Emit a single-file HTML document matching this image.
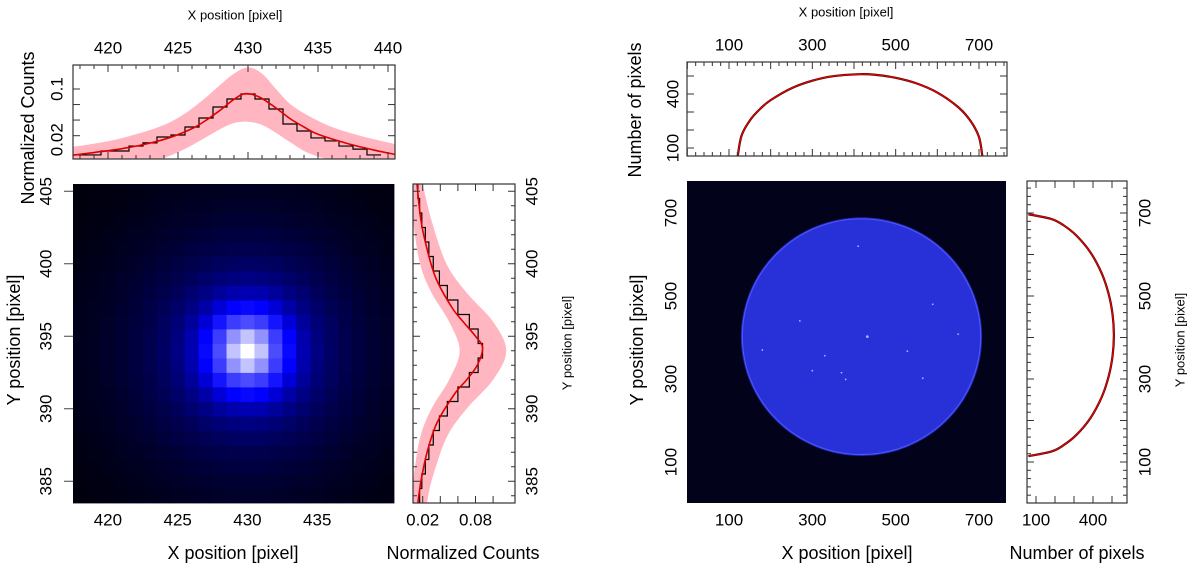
<!DOCTYPE html>
<html><head><meta charset="utf-8"><style>
html,body{margin:0;padding:0;background:#fff;}
svg{display:block;font-family:"Liberation Sans",Arial,sans-serif;}
</style></head><body>
<svg id="fig" width="1200" height="579" viewBox="0 0 1200 579" xmlns="http://www.w3.org/2000/svg"></svg>
<script>
// ---------- LEFT: PSF data ----------
const xBins = [418,419,420,421,422,423,424,425,426,427,428,429,430,431,432,433,434,435,436,437,438,439];
const xCounts = [0.0103,0.0103,0.0118,0.0118,0.0140,0.0156,0.0191,0.0205,0.0270,0.0368,0.0538,0.0708,0.0842,0.0708,0.0502,0.0299,0.0235,0.0185,0.0167,0.0140,0.0126,0.0103];
const xFitPos = [417.5,419,421,423,424.5,426,427,428,429,429.8,430.8,432,433,434,435,437,439,440.5];
const xFitVal = [0.0102,0.0112,0.0128,0.0155,0.019,0.0255,0.034,0.048,0.070,0.085,0.076,0.052,0.036,0.027,0.021,0.0155,0.0122,0.0105];
const xBandPos = [417.5,420,422,424,425.5,427,428,429,430,431,432,433,434.3,436,438,440.5];
const xBandHi = [0.0136,0.0165,0.021,0.029,0.043,0.075,0.115,0.17,0.211,0.17,0.10,0.06,0.040,0.027,0.020,0.015];
const xBandLo = [0.005,0.0058,0.007,0.0093,0.0127,0.019,0.025,0.031,0.0324,0.029,0.022,0.016,0.011,0.0085,0.0068,0.0055];
const yBins = [405,404,403,402,401,400,399,398,397,396,395,394,393,392,391,390,389,388,387,386,385,384];
const yCounts = [0.0145,0.0165,0.019,0.023,0.027,0.032,0.039,0.048,0.060,0.073,0.083,0.088,0.083,0.073,0.060,0.048,0.039,0.032,0.027,0.023,0.019,0.0165];
const yFitPos = [405.5,403,401,399,397,396,395,394.2,393,392,391,389,387,385,383.5];
const yFitVal = [0.0135,0.018,0.025,0.035,0.053,0.066,0.080,0.088,0.082,0.070,0.056,0.036,0.025,0.018,0.0145];
const yBandPos = [405.5,403,400,398,396,394,392,390,388,385,383.5];
const yBandHi = [0.020,0.030,0.047,0.070,0.100,0.115,0.100,0.070,0.047,0.030,0.025];
const yBandLo = [0.006,0.009,0.017,0.030,0.050,0.062,0.050,0.030,0.017,0.009,0.007];
// heatmap: relative brightness vs. radial pixel distance from the PSF centre
const psfCenter = [430,394];
const heatRadial = [1,0.85,0.55,0.38,0.27,0.21,0.17,0.14,0.12,0.10,0.085,0.072,0.062,0.053,0.045,0.038,0.032];
const xTicksL = [420,425,430,435,440];
const yTicksL = [385,390,395,400,405];
// ---------- RIGHT: Sun disk data ----------
const sunXPos = [121,130,150,175,200,250,300,350,414,450,500,550,600,650,680,700,708];
const sunXCount = [56,168,253,318,366,432,474,499,510,507,490,459,408,327,249,161,56];
const sunYPos = [114,125.5,140.5,165.5,205.5,255.5,305.5,355.5,405.5,455.5,505.5,555.5,605.5,645.5,670.5,685.5,697];
const sunYCount = [60,182,245,313,386,445,482,503,510,503,482,445,386,313,245,182,60];
const diskCenter = [418,402];
const diskRadius = [286,284];
const spotX = [432,330,528,370,650,589,180,565,380,410,300,270];
const spotY = [402,356,367,315,408,480,370,302,299,620,320,440];
const xTicksR = [100,300,500,700];
const yTicksR = [100,300,500,700];

const NS="http://www.w3.org/2000/svg";
const svg=document.getElementById('fig');
function el(tag,attrs,parent){const e=document.createElementNS(NS,tag);for(const k in attrs)e.setAttribute(k,attrs[k]);(parent||svg).appendChild(e);return e;}
function txt(s,x,y,size,rot,parent){const t=el('text',{x:x,y:y,'font-size':size,'text-anchor':'middle','dominant-baseline':'central',fill:'#000'},parent);if(rot)t.setAttribute('transform','rotate('+rot+' '+x+' '+y+')');t.textContent=s;return t;}
function lin(d0,d1,r0,r1){return v=>r0+(v-d0)*(r1-r0)/(d1-d0);}
function logs(d0,d1,r0,r1){const a=Math.log10(d0),b=Math.log10(d1);return v=>r0+(Math.log10(v)-a)*(r1-r0)/(b-a);}
function smooth(pts){let d='M'+pts[0][0]+','+pts[0][1];for(let i=0;i<pts.length-1;i++){const p0=pts[i-1]||pts[i],p1=pts[i],p2=pts[i+1],p3=pts[i+2]||p2;
 const c1=[p1[0]+(p2[0]-p0[0])/6,p1[1]+(p2[1]-p0[1])/6],c2=[p2[0]-(p3[0]-p1[0])/6,p2[1]-(p3[1]-p1[1])/6];d+=' C'+c1+' '+c2+' '+p2;}return d;}
let clipN=0;
function clip(x,y,w,h){const id='c'+(clipN++);const cp=el('clipPath',{id:id});el('rect',{x:x,y:y,width:w,height:h},cp);return 'url(#'+id+')';}

// ===== Left top panel =====
const LT={x0:73,x1:395,y0:65,y1:159};
const sxL=lin(417.5,440.5,73,395);
const syLog=logs(0.02,0.1,135.7,89);
let g=el('g',{'clip-path':clip(LT.x0,LT.y0,LT.x1-LT.x0,LT.y1-LT.y0)});

let band=[];xBandPos.forEach((p,i)=>band.push([sxL(p),syLog(xBandHi[i])]));
let bandL=[];xBandPos.forEach((p,i)=>bandL.push([sxL(p),syLog(xBandLo[i])]));
let bp=el('path',{d:smooth(band)+' L'+smooth(bandL.reverse()).slice(1)+' Z',fill:'#ffb6c1',stroke:'none'},g);

let hd='';xBins.forEach((b,i)=>{const y=syLog(xCounts[i]);hd+=(i?' L':'M')+sxL(b-0.5)+','+y+' L'+sxL(b+0.5)+','+y;});
let hp=el('path',{d:hd,fill:'none',stroke:'#000','stroke-width':1.2},g);

let fp=el('path',{d:smooth(xFitPos.map((p,i)=>[sxL(p),syLog(xFitVal[i])])),fill:'none',stroke:'#e00000','stroke-width':1.6},g);

el('rect',{x:LT.x0,y:LT.y0,width:LT.x1-LT.x0,height:LT.y1-LT.y0,fill:'none',stroke:'#333','stroke-width':1.2});
for(let v=418;v<=440;v++){const x=sxL(v),L=(v%5==0)?7:4;el('line',{x1:x,y1:LT.y0,x2:x,y2:LT.y0+L,stroke:'#333'});el('line',{x1:x,y1:LT.y1,x2:x,y2:LT.y1-L,stroke:'#333'});}
[0.02,0.0343,0.0585,0.1].forEach(v=>{const y=syLog(v);el('line',{x1:LT.x0,y1:y,x2:LT.x0+7,y2:y,stroke:'#333'});el('line',{x1:LT.x1,y1:y,x2:LT.x1-7,y2:y,stroke:'#333'});});
xTicksL.forEach(v=>{const t=txt(String(v),sxL(v),48,17);});
txt('0.1',57,syLog(0.1),17,-90);txt('0.02',57,syLog(0.02)+4,17,-90);
let t1=txt('X position [pixel]',235,15,13);
let t2=txt('Normalized Counts',28,128,18,-90);

// ===== Heatmap =====
const HM={x0:73,x1:394,y0:184,y1:503};
const syH=lin(405.5,383.5,184,503);
const sxH=lin(417.5,440.5,73,394);
let hg=el('g',{});
el('rect',{x:HM.x0,y:HM.y0,width:HM.x1-HM.x0,height:HM.y1-HM.y0,fill:'#000008'},hg);
function wR(r){const n=heatRadial.length-1;if(r>=n)return heatRadial[n];const i=Math.floor(r),f=r-i;return heatRadial[i]*(1-f)+heatRadial[i+1]*f;}
for(let yb=384;yb<=405;yb++){for(let xb=417;xb<=440;xb++){
 const t=wR(Math.hypot(xb-psfCenter[0],yb-psfCenter[1]));
 const b=Math.round(255*Math.pow(Math.min(1,t/0.36),1.25));const w=Math.round(255*Math.max(0,(t-0.36)/0.64));
 const x0=Math.max(HM.x0,sxH(xb-0.5)),x1=Math.min(HM.x1,sxH(xb+0.5));
 const r=el('rect',{x:x0,y:syH(yb+0.5),width:x1-x0+0.4,height:syH(yb-0.5)-syH(yb+0.5)+0.4,fill:'rgb('+w+','+w+','+Math.max(b,w)+')'},hg);
 
 
}}
yTicksL.forEach(v=>{const y=syH(v);el('line',{x1:64,y1:y,x2:73,y2:y,stroke:'#444'});const t=txt(String(v),46,y,17,-90);});
xTicksL.slice(0,4).forEach(v=>{const t=txt(String(v),sxH(v),520,17);});
let t3=txt('X position [pixel]',233,553,18);
let t4=txt('Y position [pixel]',14,340,18,-90);

// ===== Left side panel (Y profile) =====
const LS={x0:413,x1:515,y0:184,y1:503};
const sxS=lin(0.02,0.08,422.7,475.5);
let sg=el('g',{'clip-path':clip(LS.x0,LS.y0,LS.x1-LS.x0,LS.y1-LS.y0)});

let sb=[];yBandPos.forEach((p,i)=>sb.push([sxS(yBandHi[i]),syH(p)]));
let sbl=[];yBandPos.forEach((p,i)=>sbl.push([sxS(yBandLo[i]),syH(p)]));
let sbp=el('path',{d:smooth(sb)+' L'+smooth(sbl.reverse()).slice(1)+' Z',fill:'#ffb6c1'},sg);

let sh='';yBins.forEach((b,i)=>{const x=sxS(yCounts[i]);sh+=(i?' L':'M')+x+','+syH(b+0.5)+' L'+x+','+syH(b-0.5);});
let shp=el('path',{d:sh,fill:'none',stroke:'#000','stroke-width':1.2},sg);

let sfp=el('path',{d:smooth(yFitPos.map((p,i)=>[sxS(yFitVal[i]),syH(p)])),fill:'none',stroke:'#e00000','stroke-width':1.6},sg);

el('rect',{x:LS.x0,y:LS.y0,width:LS.x1-LS.x0,height:LS.y1-LS.y0,fill:'none',stroke:'#333','stroke-width':1.2});
[0.02,0.04,0.06,0.08,0.10].forEach(v=>{const x=sxS(v);el('line',{x1:x,y1:LS.y0,x2:x,y2:LS.y0+7,stroke:'#333'});el('line',{x1:x,y1:LS.y1,x2:x,y2:LS.y1-7,stroke:'#333'});});
for(let v=384;v<=405;v++){const y=syH(v),L=(v%5==0)?7:4;el('line',{x1:LS.x0,y1:y,x2:LS.x0+L,y2:y,stroke:'#333'});el('line',{x1:LS.x1,y1:y,x2:LS.x1-L,y2:y,stroke:'#333'});}
['0.02','0.08'].forEach(s=>{const t=txt(s,sxS(parseFloat(s)),520,17);});
yTicksL.forEach(v=>{const t=txt(String(v),532,syH(v),17,-90);});
let t5=txt('Normalized Counts',463,553,18);
let t6=txt('Y position [pixel]',567,343,13,-90);

// ===== Right top panel =====
const RT={x0:687,x1:1007,y0:62,y1:156};
const sxR=lin(100,700,729,979);
const syRT=lin(100,400,148,94);
let rg=el('g',{'clip-path':clip(RT.x0,RT.y0,RT.x1-RT.x0,RT.y1-RT.y0)});

const rpts=sunXPos.map((p,i)=>[sxR(p),syRT(sunXCount[i])]);
el('path',{d:smooth(rpts),fill:'none',stroke:'#000','stroke-width':2.2},rg);
let rfp=el('path',{d:smooth(rpts),fill:'none',stroke:'#e00000','stroke-width':1.5},rg);

el('rect',{x:RT.x0,y:RT.y0,width:RT.x1-RT.x0,height:RT.y1-RT.y0,fill:'none',stroke:'#333','stroke-width':1.2});
for(let v=0;v<=760;v+=20){const x=sxR(v);if(x<RT.x0||x>RT.x1)continue;const L=(v%100==0)?7:4;el('line',{x1:x,y1:RT.y0,x2:x,y2:RT.y0+L,stroke:'#333'});el('line',{x1:x,y1:RT.y1,x2:x,y2:RT.y1-L,stroke:'#333'});}
[100,200,300,400,500].forEach(v=>{const y=syRT(v);el('line',{x1:RT.x0,y1:y,x2:RT.x0+7,y2:y,stroke:'#333'});el('line',{x1:RT.x1,y1:y,x2:RT.x1-7,y2:y,stroke:'#333'});});
xTicksR.forEach(v=>{const t=txt(String(v),sxR(v),45,17);});
txt('400',673,syRT(400),17,-90);txt('100',673,syRT(100),17,-90);
let t7=txt('X position [pixel]',846,12,13);
let t8=txt('Number of pixels',635,110,18,-90);

// ===== Sun image =====
const IM={x0:687,x1:1006,y0:181,y1:503};
const syR=lin(100,700,462,213);
let ig=el('g',{});
el('rect',{x:IM.x0,y:IM.y0,width:IM.x1-IM.x0,height:IM.y1-IM.y0,fill:'#02021a'},ig);
const cx=sxR(diskCenter[0]),cy=syR(diskCenter[1]);
const rx=sxR(diskCenter[0]+diskRadius[0])-cx,ry=cy-syR(diskCenter[1]+diskRadius[1]);
el('ellipse',{cx:cx,cy:cy,rx:rx+1.5,ry:ry+1.5,fill:'#1e24a0'},ig);
let disk=el('ellipse',{cx:cx,cy:cy,rx:rx,ry:ry,fill:'#2830d8',stroke:'#4a54ff','stroke-width':1.2},ig);

spotX.forEach((sx,i)=>{const s=el('circle',{cx:sxR(sx),cy:syR(spotY[i]),r:i==0?1.4:0.9,fill:'#aab0ff'},ig);});
xTicksR.forEach(v=>{const t=txt(String(v),sxR(v),520,17);});
yTicksR.forEach(v=>{const t=txt(String(v),671,syR(v),17,-90);});
let t9=txt('X position [pixel]',847,553,18);
let t10=txt('Y position [pixel]',637,340,18,-90);

// ===== Right side panel =====
const RS={x0:1027,x1:1127,y0:181,y1:503};
const sxRS=lin(100,400,1036,1093);
let rsg=el('g',{'clip-path':clip(RS.x0,RS.y0,RS.x1-RS.x0,RS.y1-RS.y0)});

const rspts=sunYPos.map((p,i)=>[sxRS(sunYCount[i]),syR(p)]);
el('path',{d:smooth(rspts),fill:'none',stroke:'#000','stroke-width':2.2},rsg);
let rsf=el('path',{d:smooth(rspts),fill:'none',stroke:'#e00000','stroke-width':1.5},rsg);

el('rect',{x:RS.x0,y:RS.y0,width:RS.x1-RS.x0,height:RS.y1-RS.y0,fill:'none',stroke:'#333','stroke-width':1.2});
[100,200,300,400,500].forEach(v=>{const x=sxRS(v);el('line',{x1:x,y1:RS.y0,x2:x,y2:RS.y0+7,stroke:'#333'});el('line',{x1:x,y1:RS.y1,x2:x,y2:RS.y1-7,stroke:'#333'});});
for(let v=20;v<=760;v+=20){const y=syR(v);if(y<RS.y0||y>RS.y1)continue;const L=(v%100==0)?7:4;el('line',{x1:RS.x0,y1:y,x2:RS.x0+L,y2:y,stroke:'#333'});el('line',{x1:RS.x1,y1:y,x2:RS.x1-L,y2:y,stroke:'#333'});}
[100,400].forEach(v=>{const t=txt(String(v),sxRS(v),520,17);});
yTicksR.forEach(v=>{const t=txt(String(v),1145,syR(v),17,-90);});
let t11=txt('Number of pixels',1077,553,18);
let t12=txt('Y position [pixel]',1180,340,13,-90);
</script>
</body></html>
